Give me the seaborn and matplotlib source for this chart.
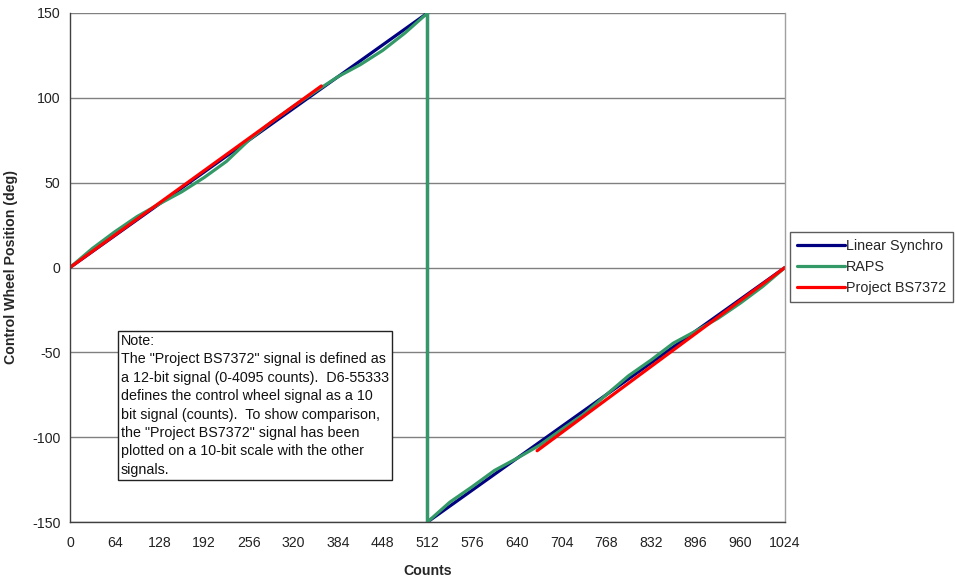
import numpy as np
import pandas as pd
import matplotlib
matplotlib.use("Agg")
import matplotlib.pyplot as plt
import seaborn as sns

# Linear Synchro: ramp to +150 deg, wraps to -150 deg at mid-scale, ramps back to 0
linear_counts = [0, 512, 512, 1024]
linear_deg = [0, 150, -150, 0]

# RAPS signal (read at 32-count steps, with the wrap at 512)
raps_counts = [0, 32, 64, 96, 128, 160, 192, 224, 256, 288, 320, 352, 384,
               416, 448, 480, 512, 512, 544, 576, 608, 640, 672, 704, 736,
               768, 800, 832, 864, 896, 928, 960, 992, 1024]
raps_deg = [0, 11.2, 21.0, 30.0, 37.5, 44.6, 53.0, 62.5, 75.0, 85.6, 95.0,
            103.9, 112.5, 119.6, 128.0, 138.3, 150, -150, -138.3, -129.2,
            -119.6, -112.5, -104.9, -95.5, -86.4, -75.0, -63.8, -54.6,
            -44.6, -37.5, -30.0, -21.0, -11.2, 0]

# Project BS7372 (12-bit signal rescaled to the 10-bit count axis), two segments
bs_counts_a = [0, 360]
bs_deg_a = [0, 107]
bs_counts_b = [669, 1024]
bs_deg_b = [-108, 0]

x_ticks = list(range(0, 1025, 64))
y_ticks = [-150, -100, -50, 0, 50, 100, 150]

navy = "#000080"
green = "#339966"
red = "#FF0000"

sns.set_theme(style="white")
plt.rcParams["font.family"] = ["Liberation Sans", "DejaVu Sans"]

fig = plt.figure(figsize=(9.56, 5.80), dpi=100)
ax = fig.add_axes([70 / 956, 58 / 580, 715 / 956, 509 / 580])

lw = 2.3
line_kw = dict(ax=ax, lw=lw, sort=False, estimator=None)

df_lin = pd.DataFrame({"Counts": linear_counts, "deg": linear_deg})
sns.lineplot(data=df_lin, x="Counts", y="deg", color=navy,
             label="Linear Synchro", **line_kw)

df_raps = pd.DataFrame({"Counts": raps_counts, "deg": raps_deg})
sns.lineplot(data=df_raps, x="Counts", y="deg", color=green,
             label="RAPS", **line_kw)

df_bs_a = pd.DataFrame({"Counts": bs_counts_a, "deg": bs_deg_a})
df_bs_b = pd.DataFrame({"Counts": bs_counts_b, "deg": bs_deg_b})
sns.lineplot(data=df_bs_a, x="Counts", y="deg", color=red,
             label="Project BS7372", **line_kw)
sns.lineplot(data=df_bs_b, x="Counts", y="deg", color=red,
             label="_nolegend_", **line_kw)

ax.set_xlim(0, 1024)
ax.set_ylim(-150, 150)
ax.set_xticks(x_ticks)
ax.set_yticks(y_ticks)
ax.set_xticklabels([str(t) for t in x_ticks])
ax.set_yticklabels([str(t) for t in y_ticks])

ax.yaxis.grid(True, color="#808080", lw=1.0)
ax.xaxis.grid(False)
ax.set_axisbelow(True)

for side in ["left", "bottom"]:
    ax.spines[side].set_color("#404040")
    ax.spines[side].set_linewidth(1.0)
ax.spines["right"].set_color("#a0a0a0")
ax.spines["right"].set_linewidth(1.0)
ax.spines["top"].set_visible(False)

ax.tick_params(axis="both", direction="out", length=4, width=1,
               color="#404040", labelsize=10.2, labelcolor="#222222", pad=3)
ax.tick_params(axis="x", pad=6)

ax.set_xlabel("Counts", fontsize=10.2, fontweight="bold", labelpad=10)
ax.set_ylabel("Control Wheel Position (deg)", fontsize=10.2, fontweight="bold",
              labelpad=10)

leg = ax.legend(loc="center left", bbox_to_anchor=(790 / 956, 1 - 267 / 580),
                bbox_transform=fig.transFigure, frameon=True, fancybox=False,
                shadow=False, fontsize=10.4, handlelength=3.3, handletextpad=0.05,
                borderpad=0.5, labelspacing=0.5, borderaxespad=0)
leg.get_frame().set_edgecolor("#333333")
leg.get_frame().set_linewidth(1.0)

note = ('Note:\n'
        'The "Project BS7372" signal is defined as\n'
        'a 12-bit signal (0-4095 counts).  D6-55333\n'
        'defines the control wheel signal as a 10\n'
        'bit signal (counts).  To show comparison,\n'
        'the "Project BS7372" signal has been\n'
        'plotted on a 10-bit scale with the other\n'
        'signals.')
fig.text(121 / 956, 1 - 334 / 580, note, ha="left", va="top", fontsize=10.3,
         linespacing=1.4, color="#111111",
         bbox=dict(boxstyle="square,pad=0.2", facecolor="white",
                   edgecolor="#222222", linewidth=1.0))

fig.savefig("out.png", dpi=100)
